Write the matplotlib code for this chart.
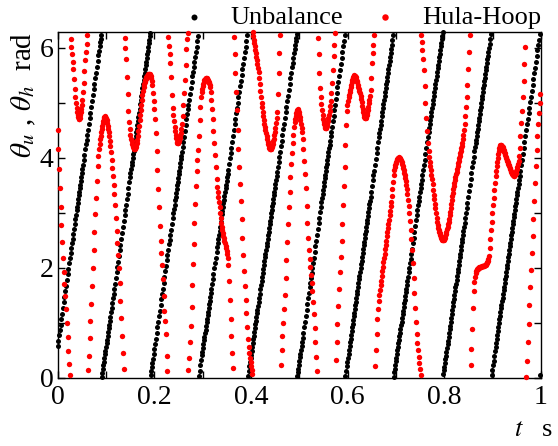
import numpy as np
import matplotlib
matplotlib.use("Agg")
import matplotlib.pyplot as plt
from matplotlib.ticker import MultipleLocator

plt.rcParams['font.family'] = ['Liberation Serif', 'DejaVu Serif']
plt.rcParams['mathtext.fontset'] = 'stix'

# ---------------- data ----------------
# recorded sampling step [s] as seen against the hoop angular speed [rad/s]
# (dots are dense where the hoop turns slowly, sparse in its fast sweeps)
speed_ref = [0.0, 60.0, 170.0, 400.0]
step_ref = [1.05e-3, 1.10e-3, 1.75e-3, 0.90e-3]

# Unbalance: unwrapped angle at the instants where the plotted angle wraps (2*pi*k)
t_u_knots = [0.0, 0.0914, 0.192, 0.292, 0.3935, 0.4955, 0.595, 0.695, 0.797, 0.897, 0.998, 1.0]
theta_u_knots = [0.575, 6.283, 12.566, 18.850, 25.133, 31.416, 37.699, 43.982, 50.265, 56.549, 62.832, 62.96]

# Hula-Hoop: unwrapped angle
t_h_knots = [
    0.0000, 0.0099, 0.0169, 0.0259, 0.0279, 0.0327, 0.0362, 0.0397, 0.0445,
    0.0500, 0.0534, 0.0569, 0.0617, 0.0637, 0.0687, 0.0741, 0.0790, 0.0845, 0.0914, 0.0982,
    0.1050, 0.1086, 0.1134, 0.1175, 0.1210, 0.1245, 0.1279, 0.1313, 0.1361, 0.1382,
    0.1410, 0.1440, 0.1475, 0.1530, 0.1589,
    0.1638, 0.1706, 0.1754, 0.1795, 0.1866, 0.1900,
    0.1948, 0.1981, 0.2017, 0.2052, 0.2085, 0.2120, 0.2168, 0.2203, 0.2244, 0.2271,
    0.2292, 0.2341, 0.2368, 0.2410, 0.2451, 0.2478,
    0.2519, 0.2568, 0.2602, 0.2637, 0.2672, 0.2705, 0.2740, 0.2775, 0.2809, 0.2865,
    0.2912, 0.2947, 0.2982, 0.3070,
    0.3154, 0.3189, 0.3222, 0.3257, 0.3293, 0.3346, 0.3396, 0.3464, 0.3520, 0.3553,
    0.3582, 0.3624, 0.3650, 0.3706, 0.3754, 0.3810, 0.3843, 0.3899, 0.3946, 0.4037,
    0.4153, 0.4223, 0.4290, 0.4400,
    0.4534, 0.4602, 0.4623, 0.4705, 0.4788, 0.4857, 0.4912, 0.4968,
    0.5050, 0.5120, 0.5187, 0.5278, 0.5360, 0.5390, 0.5430, 0.5498, 0.5547,
    0.5615, 0.5657, 0.5705, 0.5740, 0.5754, 0.5822, 0.5898, 0.5946, 0.5980, 0.6050, 0.6139,
    0.6256, 0.6360,
    0.6464, 0.6510, 0.6552, 0.6567, 0.6635, 0.6705, 0.6809, 0.6898, 0.6980, 0.7063,
    0.7187, 0.7255, 0.7326, 0.7373, 0.7429, 0.7566, 0.7622, 0.7670, 0.7740, 0.7808, 0.7876, 0.7980,
    0.8083, 0.8186, 0.8290, 0.8390, 0.8463, 0.8530, 0.8567, 0.8614, 0.8670, 0.8774, 0.8842,
    0.8910, 0.8960, 0.9013, 0.9084, 0.9166,
    0.9290, 0.9448,
    0.9530, 0.9600, 0.9680, 0.9704, 0.9772, 0.9841, 0.9910, 0.9980, 1.0000,
]
theta_h_knots = [
    4.50, 2.38, 1.35, 0.02, -0.20, -0.69, -1.11, -1.40, -1.58,
    -1.35, -1.02, -0.56, -0.03, 0.26, 1.17, 2.20, 3.17, 4.02, 4.50, 4.75,
    4.50, 4.26, 3.78, 3.32, 2.81, 2.32, 1.81, 1.17, 0.29, -0.05,
    -0.40, -0.95, -1.55, -1.98, -2.13,
    -2.02, -1.53, -1.17, -0.93, -0.78, -0.76,
    -0.87, -1.17, -1.59, -2.20, -2.90, -3.63, -4.32, -4.93, -5.50, -6.11,
    -6.38, -6.96, -7.49, -7.92, -8.19, -8.31,
    -8.25, -8.01, -7.61, -7.10, -6.52, -6.20, -5.65, -5.02, -4.11, -2.72,
    -2.08, -1.50, -1.11, -0.84,
    -0.99, -1.32, -1.75, -2.23, -2.72, -3.14, -3.53, -3.84, -4.11, -4.63,
    -5.26, -6.02, -6.43, -7.58, -8.64, -9.70, -10.37, -11.25, -11.92, -12.57,
    -13.26, -13.86, -14.29, -14.70,
    -14.10, -12.60, -12.25, -10.98, -9.40, -8.40, -7.88, -7.69,
    -8.04, -8.92, -10.07, -11.10, -12.35, -12.80, -13.56, -14.15, -14.32,
    -14.07, -13.74, -13.07, -12.58, -12.31, -10.98, -9.67, -8.61, -7.76, -7.34, -7.07,
    -7.40, -7.85,
    -7.43, -6.79, -6.30, -6.02, -4.99, -4.44, -3.72, -3.11, -2.44, -2.28,
    -2.63, -3.11, -3.90, -4.63, -5.47, -6.82, -7.76, -8.40, -8.92, -9.43, -9.85, -10.07,
    -9.75, -9.15, -8.65, -8.19, -7.43, -6.28, -5.65, -4.63, -4.32, -4.26, -4.24,
    -4.14, -3.65, -3.08, -2.44, -2.05,
    -2.32, -2.61,
    -2.38, -1.53, -0.20, 0.20, 1.59, 2.87, 4.14, 5.08, 5.30,
]

series_names = ["Unbalance", "Hula-Hoop"]
series_colors = ["#000000", "#ff0000"]
x_ticks = [0, 0.2, 0.4, 0.6, 0.8, 1]
x_ticklabels = ["0", "0.2", "0.4", "0.6", "0.8", "1"]
y_ticks = [0, 2, 4, 6]
y_ticklabels = ["0", "2", "4", "6"]


def pchip(x, y, xi):
    x = np.asarray(x, float)
    y = np.asarray(y, float)
    xi = np.asarray(xi, float)
    h = np.diff(x)
    d = np.diff(y) / h
    m = np.zeros_like(y)
    m[0], m[-1] = d[0], d[-1]
    for k in range(1, len(y) - 1):
        if d[k - 1] * d[k] > 0:
            w1 = 2 * h[k] + h[k - 1]
            w2 = h[k] + 2 * h[k - 1]
            m[k] = (w1 + w2) / (w1 / d[k - 1] + w2 / d[k])
    idx = np.clip(np.searchsorted(x, xi) - 1, 0, len(x) - 2)
    hk = h[idx]
    s = (xi - x[idx]) / hk
    h00 = 2 * s**3 - 3 * s**2 + 1
    h10 = s**3 - 2 * s**2 + s
    h01 = -2 * s**3 + 3 * s**2
    h11 = s**3 - s**2
    return h00 * y[idx] + h10 * hk * m[idx] + h01 * y[idx + 1] + h11 * hk * m[idx + 1]


# recorded time instants (variable step)
t_fine = np.linspace(0.0, 1.0, 20001)
speed_fine = np.abs(np.gradient(pchip(t_h_knots, theta_h_knots, t_fine), t_fine))
t_list = [0.0]
while True:
    w = np.interp(t_list[-1], t_fine, speed_fine)
    nxt = t_list[-1] + np.interp(w, speed_ref, step_ref)
    if nxt > 1.0 + 1e-9:
        break
    t_list.append(nxt)
t = np.array(t_list)

two_pi = 2 * np.pi
theta_u = np.mod(np.interp(t, t_u_knots, theta_u_knots), two_pi)
theta_h = np.mod(pchip(t_h_knots, theta_h_knots, t), two_pi)

# ---------------- figure ----------------
fig = plt.figure(figsize=(5.58, 4.46), dpi=100)
ax = fig.add_axes([57.5 / 558, 1 - 377.7 / 446, (541 - 57.5) / 558, (377.7 - 32) / 446])

ax.scatter(t, theta_u, s=13, c=series_colors[0], linewidths=0, label=series_names[0], clip_on=False, zorder=2)
ax.scatter(t, theta_h, s=15, c=series_colors[1], linewidths=0, label=series_names[1], clip_on=False, zorder=3)

ax.set_xlim(0, 1)
ax.set_ylim(0, two_pi)
ax.set_xticks(x_ticks)
ax.set_xticklabels(x_ticklabels)
ax.set_yticks(y_ticks)
ax.set_yticklabels(y_ticklabels)
ax.xaxis.set_minor_locator(MultipleLocator(0.1))
ax.yaxis.set_minor_locator(MultipleLocator(1))
ax.tick_params(which='both', direction='in', top=True, right=True, length=5, width=1)
ax.tick_params(axis='x', which='major', labelsize=20, pad=5)
ax.tick_params(axis='y', which='major', labelsize=20, pad=3)
for sp in ax.spines.values():
    sp.set_linewidth(1.0)

leg = ax.legend(loc='lower right', bbox_to_anchor=(1.0, 1.008), ncol=2, frameon=False,
                fontsize=19, handletextpad=0.38, columnspacing=0.6, borderaxespad=0.0,
                borderpad=0.0, markerscale=1.2, scatterpoints=1)

fig.text(24 / 558, 1 - 95 / 446, r"$\theta_u$ , $\theta_h$  rad", rotation=90,
         ha='center', va='center', fontsize=21)
fig.text(533 / 558, 1 - 430 / 446, r"$t$   s", ha='center', va='center', fontsize=19)

fig.savefig("out.png", dpi=100)
